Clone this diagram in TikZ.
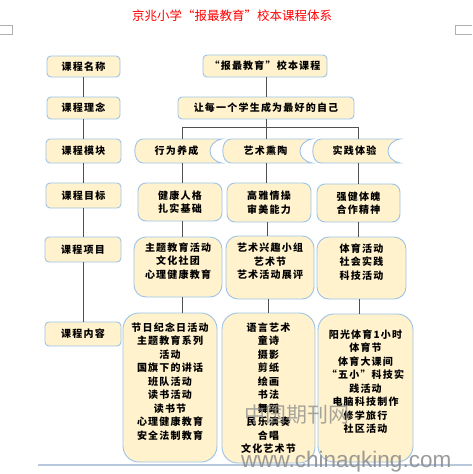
\documentclass[tikz,border=0pt]{standalone}
\usepackage{fontspec}
\newfontfamily\cjk{Noto Sans CJK SC}[LetterSpace=12]
\newfontfamily\cjktitle{Noto Sans CJK SC}
\newfontfamily\wmsans{Liberation Sans}
\usetikzlibrary{calc,backgrounds}
\definecolor{fillc}{HTML}{FFF2CC}
\definecolor{bord}{HTML}{9DC3E6}
\definecolor{connc}{HTML}{505050}
\definecolor{markc}{HTML}{B0B0B0}
\definecolor{basec}{HTML}{B8C9DE}
\definecolor{wmc}{HTML}{8A8A8A}
\tikzset{
  boxbase/.style={draw=bord, fill=fillc, line width=0.9pt, inner sep=0pt, outer sep=0pt,
    align=center, font=\cjk\bfseries\fontsize{10}{13.5}\selectfont},
  smallbox/.style={boxbase, rounded corners=4pt},
  goalbox/.style={boxbase, rounded corners=8pt},
  projbox/.style={boxbase, rounded corners=12pt},
  contbox/.style={boxbase, rounded corners=16pt},
  modnode/.style={inner sep=0pt, outer sep=0pt, align=center,
    font=\cjk\bfseries\fontsize{10}{13.5}\selectfont},
  modline/.style={draw=bord, fill=fillc, line width=0.9pt},
  conn/.style={draw=connc, line width=0.8pt},
}
\begin{document}
\begin{tikzpicture}[x=1pt,y=-1pt]
\useasboundingbox (0,0) rectangle (472,474);
% page corner marks
\draw[markc, line width=0.8pt] (0,25) -- (12,25) -- (12,34) -- (0,34);
\draw[markc, line width=0.8pt] (472,25) -- (455,25) -- (455,34) -- (472,34);
% title
\node[text=red, font=\cjktitle\fontsize{12.5}{14}\selectfont] (title) at (232,16) {京兆小学“报最教育”校本课程体系};
% left column
\node[smallbox, minimum width=73, minimum height=21] (n1) at (83.5,66.5) {课程名称};
\node[smallbox, minimum width=73, minimum height=22] (n2) at (83.5,108) {课程理念};
\node[smallbox, minimum width=75, minimum height=24] (n3) at (83.5,151) {课程模块};
\node[smallbox, minimum width=75, minimum height=25] (n4) at (83.5,195.5) {课程目标};
\node[smallbox, minimum width=76, minimum height=25] (n5) at (83,249.5) {课程项目};
\node[smallbox, minimum width=76, minimum height=24] (n6) at (83,334) {课程内容};
% top right
\node[smallbox, minimum width=124, minimum height=22] (t1) at (265,66) {“报最教育”校本课程};
\node[smallbox, minimum width=176, minimum height=22] (t2) at (266,108) {让每一个学生成为最好的自己};
% modules
\node[modnode, minimum width=87, minimum height=24] (m1) at (178.5,151) {};
\node[modnode, minimum width=89, minimum height=24] (m2) at (267.5,151) {};
\node[modnode, minimum width=87, minimum height=24] (m3) at (356.5,151) {};
\foreach \m in {m1,m2,m3}{
  \draw[modline] ($(\m.north west)+(8,0)$) -- (\m.north east)
    .. controls +(-16,3) and +(-16,-3) .. (\m.south east)
    -- ($(\m.south west)+(8,0)$)
    .. controls +(-11,0) and +(-11,0) .. ($(\m.north west)+(8,0)$) -- cycle;
}
\node[modnode] (m1t) at ($(m1.center)+(-2,0)$) {行为养成};
\node[modnode] (m2t) at ($(m2.center)+(-2,0)$) {艺术熏陶};
\node[modnode] (m3t) at ($(m3.center)+(-2,0)$) {实践体验};
% goals
\node[goalbox, minimum width=84, minimum height=38] (g1) at (180,202) {健康人格\\扎实基础};
\node[goalbox, minimum width=84, minimum height=39] (g2) at (269,202.5) {高雅情操\\审美能力};
\node[goalbox, minimum width=83, minimum height=38] (g3) at (358.5,203) {强健体魄\\合作精神};
% projects
\node[projbox, minimum width=88, minimum height=60] (p1) at (178,267) {主题教育活动\\文化社团\\心理健康教育\\\mbox{}};
\node[projbox, minimum width=88, minimum height=63] (p2) at (270,267.5) {艺术兴趣小组\\艺术节\\艺术活动展评\\\mbox{}};
\node[projbox, minimum width=89, minimum height=62] (p3) at (361.5,268) {体育活动\\社会实践\\科技活动\\\mbox{}};
% contents
\node[contbox, minimum width=94, minimum height=149] (c1) at (170,387.5) {节日纪念日活动\\主题教育系列\\活动\\国旗下的讲话\\班队活动\\读书活动\\读书节\\心理健康教育\\安全法制教育\\\mbox{}};
\node[contbox, minimum width=93, minimum height=150] (c2) at (268.5,388) {语言艺术\\童诗\\摄影\\剪纸\\绘画\\书法\\舞蹈\\民乐演奏\\合唱\\文化艺术节};
\node[contbox, minimum width=95, minimum height=148] (c3) at (365.5,388) {阳光体育1小时\\体育节\\体育大课间\\“五小”科技实\\践活动\\电脑科技制作\\修学旅行\\社区活动\\\mbox{}};
% connector guide coordinates
\coordinate (cx1) at (182,0);
\coordinate (cx2) at (266,0);
\coordinate (cx3) at (358,0);
\coordinate (j) at (266,127);
% left column connectors
\draw[conn] (n1.south) -- (n2.north -| n1.south);
\draw[conn] (n2.south) -- (n3.north -| n2.south);
\draw[conn] (n3.south) -- (n4.north -| n3.south);
\draw[conn] (n4.south) -- (n5.north -| n4.south);
\draw[conn] (n5.south) -- (n6.north -| n5.south);
% right connectors
\draw[conn] (t1.south -| cx2) -- (t2.north -| cx2);
\draw[conn] (t2.south -| cx2) -- (j);
\draw[conn] (j -| cx1) -- (j -| cx3);
\draw[conn] (j -| cx1) -- (m1.north -| cx1);
\draw[conn] (j) -- (m2.north -| cx2);
\draw[conn] (j -| cx3) -- (m3.north -| cx3);
\draw[conn] (m1.south -| cx1) -- (g1.north -| cx1);
\draw[conn] (m2.south -| cx2) -- (g2.north -| cx2);
\draw[conn] (m3.south -| cx3) -- (g3.north -| cx3);
\draw[conn] (g1.south -| cx1) -- (p1.north -| cx1);
\draw[conn] ($(g2.south -| cx2)+(1,0)$) -- ($(p2.north -| cx2)+(1,0)$);
\draw[conn] (g3.south -| cx3) -- (p3.north -| cx3);
\draw[conn] (p1.south -| cx1) -- (c1.north -| cx1);
\draw[conn] ($(p2.south -| cx2)+(2,0)$) -- ($(c2.north -| cx2)+(2,0)$);
\draw[conn] ($(p3.south -| cx3)+(1,0)$) -- ($(c3.north -| cx3)+(1,0)$);
% bottom page line
\draw[basec, line width=1.5pt] (38,465) -- (472,465);
% watermark
\node[text=wmc, opacity=0.75, font=\cjktitle\fontsize{21}{22}\selectfont] (wm1) at (297,415) {中国期刊网};
\node[text=wmc, opacity=0.85, font=\wmsans\fontsize{22.5}{24}\selectfont, anchor=west, inner sep=0pt] (wm2) at (241,462) {www.chinaqking.com};
\end{tikzpicture}
\end{document}
